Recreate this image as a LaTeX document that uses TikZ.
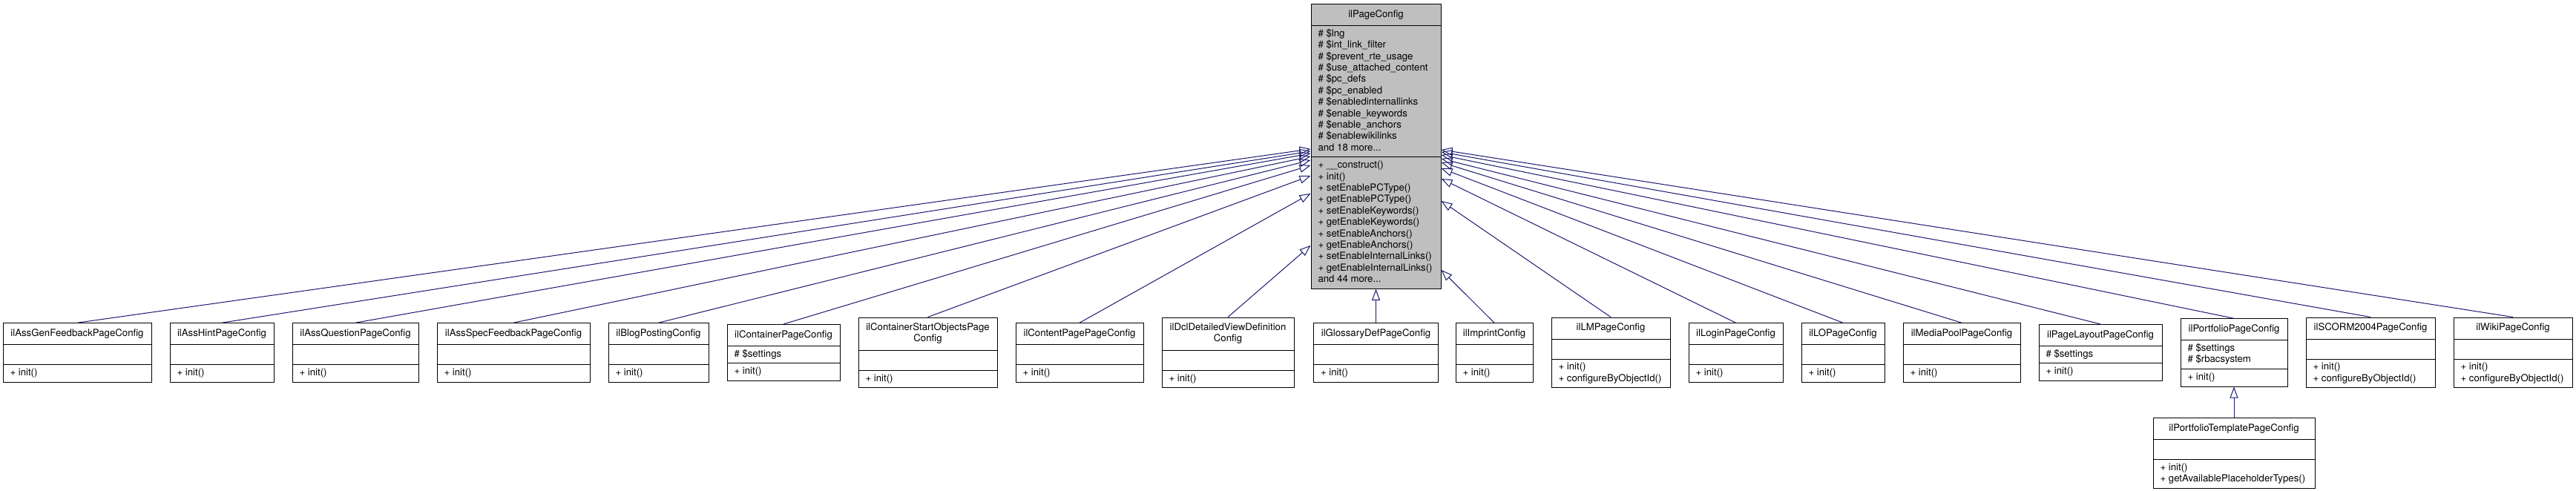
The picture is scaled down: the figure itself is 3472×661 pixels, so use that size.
\documentclass[tikz,border=0pt]{standalone}
\usepackage{fontspec}
\setmainfont{TeX Gyre Heros}
\usepackage{tikz}
\usetikzlibrary{arrows.meta, shapes.multipart}

\definecolor{edgeblue}{HTML}{191970}
\definecolor{basegray}{HTML}{BFBFBF}

% compartment contents
\newcommand{\ttl}[1]{\rule[-3.71pt]{0pt}{10.5pt}#1}
\newcommand{\ttltwo}[2]{\begin{tabular}{@{}c@{}}\rule{0pt}{6.79pt}#1\\\rule[-3.71pt]{0pt}{3.71pt}#2\end{tabular}}
\newcommand{\mb}[1]{\strut #1}
\newcommand{\noattr}{\rule[-3pt]{0pt}{9.5pt}}

\tikzset{
    cls/.style={rectangle split, rectangle split parts=3,
        rectangle split part align={center,left,left},
        draw=black, line width=0.5pt, fill=white, align=left,
        inner xsep=4.75pt, inner ysep=1.75pt,
        font=\fontsize{6.6}{7.7}\selectfont, minimum width=#1},
    base/.style={cls=#1, fill=basegray},
    inherit/.style={draw=edgeblue, line width=0.5pt,
        -{Triangle[open, length=7.5pt, width=5.5pt]}}
}

\begin{document}
\begin{tikzpicture}[x=0.5pt, y=-0.5pt]
    \useasboundingbox (0,0) rectangle (3472,661);

    % Base class on top
    \node[base=87.5pt, anchor=north] (cfg) at (1854.5,5) {\ttl{ilPageConfig}
        \nodepart{two}\mb{\# \$lng}\\\mb{\# \$int\_link\_filter}\\\mb{\# \$prevent\_rte\_usage}\\
        \mb{\# \$use\_attached\_content}\\\mb{\# \$pc\_defs}\\\mb{\# \$pc\_enabled}\\
        \mb{\# \$enabledinternallinks}\\\mb{\# \$enable\_keywords}\\\mb{\# \$enable\_anchors}\\
        \mb{\# \$enablewikilinks}\\\mb{and 18 more...}
        \nodepart{three}\mb{+ \_\_construct()}\\\mb{+ init()}\\\mb{+ setEnablePCType()}\\
        \mb{+ getEnablePCType()}\\\mb{+ setEnableKeywords()}\\\mb{+ getEnableKeywords()}\\
        \mb{+ setEnableAnchors()}\\\mb{+ getEnableAnchors()}\\\mb{+ setEnableInternalLinks()}\\
        \mb{+ getEnableInternalLinks()}\\\mb{and 44 more...}};

    % Derived classes, one row
    \node[cls=100pt] (agf) at (104,475.4) {\ttl{ilAssGenFeedbackPageConfig}\nodepart{two}\noattr\nodepart{three}\mb{+ init()}};
    \node[cls=70pt] (ahint) at (299,475.4) {\ttl{ilAssHintPageConfig}\nodepart{two}\noattr\nodepart{three}\mb{+ init()}};
    \node[cls=85pt] (aques) at (479,475.4) {\ttl{ilAssQuestionPageConfig}\nodepart{two}\noattr\nodepart{three}\mb{+ init()}};
    \node[cls=103pt] (aspec) at (692,475.4) {\ttl{ilAssSpecFeedbackPageConfig}\nodepart{two}\noattr\nodepart{three}\mb{+ init()}};
    \node[cls=67.5pt] (blog) at (887.5,475.4) {\ttl{ilBlogPostingConfig}\nodepart{two}\noattr\nodepart{three}\mb{+ init()}};
    \node[cls=76pt] (cont) at (1056,475.4) {\ttl{ilContainerPageConfig}\nodepart{two}\mb{\# \$settings}\nodepart{three}\mb{+ init()}};
    \node[cls=93.5pt] (cso) at (1250.5,475.4) {\ttltwo{ilContainerStartObjectsPage}{Config}\nodepart{two}\noattr\nodepart{three}\mb{+ init()}};
    \node[cls=86pt] (cpage) at (1455,475.4) {\ttl{ilContentPagePageConfig}\nodepart{two}\noattr\nodepart{three}\mb{+ init()}};
    \node[cls=89pt] (dcl) at (1655,475.4) {\ttltwo{ilDclDetailedViewDefinition}{Config}\nodepart{two}\noattr\nodepart{three}\mb{+ init()}};
    \node[cls=84pt] (gloss) at (1854.5,475.4) {\ttl{ilGlossaryDefPageConfig}\nodepart{two}\noattr\nodepart{three}\mb{+ init()}};
    \node[cls=52pt] (impr) at (2014,475.4) {\ttl{ilImprintConfig}\nodepart{two}\noattr\nodepart{three}\mb{+ init()}};
    \node[cls=80pt] (lm) at (2171,475.4) {\ttl{ilLMPageConfig}\nodepart{two}\noattr\nodepart{three}\mb{+ init()}\\\mb{+ configureByObjectId()}};
    \node[cls=63.5pt] (login) at (2339.5,475.4) {\ttl{ilLoginPageConfig}\nodepart{two}\noattr\nodepart{three}\mb{+ init()}};
    \node[cls=56pt] (lo) at (2484,475.4) {\ttl{ilLOPageConfig}\nodepart{two}\noattr\nodepart{three}\mb{+ init()}};
    \node[cls=79pt] (mpool) at (2644,475.4) {\ttl{ilMediaPoolPageConfig}\nodepart{two}\noattr\nodepart{three}\mb{+ init()}};
    \node[cls=83pt] (playout) at (2831,475.4) {\ttl{ilPageLayoutPageConfig}\nodepart{two}\mb{\# \$settings}\nodepart{three}\mb{+ init()}};
    \node[cls=72pt] (port) at (3011,475.4) {\ttl{ilPortfolioPageConfig}\nodepart{two}\mb{\# \$settings}\\\mb{\# \$rbacsystem}\nodepart{three}\mb{+ init()}};
    \node[cls=87pt] (scorm) at (3195,475.4) {\ttl{ilSCORM2004PageConfig}\nodepart{two}\noattr\nodepart{three}\mb{+ init()}\\\mb{+ configureByObjectId()}};
    \node[cls=80pt] (wiki) at (3387,475.4) {\ttl{ilWikiPageConfig}\nodepart{two}\noattr\nodepart{three}\mb{+ init()}\\\mb{+ configureByObjectId()}};

    % Second level
    \node[cls=109pt] (ptpl) at (3011,610.9) {\ttl{ilPortfolioTemplatePageConfig}\nodepart{two}\noattr\nodepart{three}\mb{+ init()}\\\mb{+ getAvailablePlaceholderTypes()}};

    % Inheritance arrows, left side
    \draw[inherit] (agf.north) -- ([yshift=5.5pt]cfg.two split west);
    \draw[inherit] (ahint.north) -- ([yshift=4pt]cfg.two split west);
    \draw[inherit] (aques.north) -- ([yshift=2.5pt]cfg.two split west);
    \draw[inherit] (aspec.north) -- ([yshift=0.5pt]cfg.two split west);
    \draw[inherit] (blog.north) -- ([yshift=-2pt]cfg.two split west);
    \draw[inherit] (cont.north) -- ([yshift=-5.5pt]cfg.two split west);
    \draw[inherit] (cso.north) -- ([yshift=-12.5pt]cfg.two split west);
    \draw[inherit] (cpage.north) -- ([yshift=-24.5pt]cfg.two split west);
    \draw[inherit] (dcl.north) -- ([yshift=-59.5pt]cfg.two split west);
    \draw[inherit] (gloss.north) -- (cfg.south);
    % right side
    \draw[inherit] (impr.north) -- ([yshift=-76pt]cfg.two split east);
    \draw[inherit] (lm.north) -- ([yshift=-29.5pt]cfg.two split east);
    \draw[inherit] (login.north) -- ([yshift=-14.5pt]cfg.two split east);
    \draw[inherit] (lo.north) -- ([yshift=-7.5pt]cfg.two split east);
    \draw[inherit] (mpool.north) -- ([yshift=-3.5pt]cfg.two split east);
    \draw[inherit] (playout.north) -- ([yshift=-1pt]cfg.two split east);
    \draw[inherit] (port.north) -- ([yshift=1.5pt]cfg.two split east);
    \draw[inherit] (scorm.north) -- ([yshift=3.5pt]cfg.two split east);
    \draw[inherit] (wiki.north) -- ([yshift=5pt]cfg.two split east);
    \draw[inherit] (ptpl.north) -- (port.south);

\end{tikzpicture}
\end{document}
